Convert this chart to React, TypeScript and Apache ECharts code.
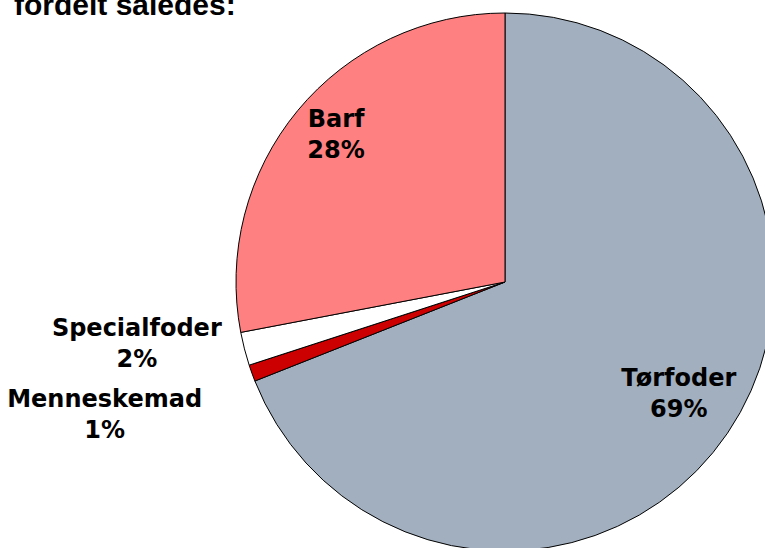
import React, { useEffect, useRef } from "react";
import * as echarts from "echarts";

const titleText = "fordelt således:";
const categories = ["Tørfoder", "Menneskemad", "Specialfoder", "Barf"];
const values = [69, 1, 2, 28];
const colors = ["#A2AFBF", "#CC0000", "#FFFFFF", "#FF8080"];
const labelOffsets: [number, number][] = [
  [60, 34],
  [-271, 86],
  [-235, 27],
  [-63, -60],
];

export default function App() {
  const ref = useRef<HTMLDivElement>(null);
  useEffect(() => {
    if (!ref.current) return;
    const chart = echarts.init(ref.current, undefined, { renderer: "svg" });
    chart.setOption({
      animation: false,
      backgroundColor: "#ffffff",
      graphic: [
        {
          type: "text",
          x: 14,
          y: 4,
          style: {
            text: titleText,
            font: "bold 30px 'Liberation Sans', Arial, sans-serif",
            fill: "#000000",
            verticalAlign: "middle",
            align: "left",
          },
        },
      ],
      series: [
        {
          type: "pie",
          center: [505, 282],
          radius: 269,
          startAngle: 90,
          clockwise: true,
          avoidLabelOverlap: false,
          labelLine: { show: false },
          itemStyle: { borderColor: "#000000", borderWidth: 1 },
          emphasis: { disabled: true },
          data: categories.map((name, i) => ({
            name,
            value: values[i],
            itemStyle: { color: colors[i] },
            label: {
              show: true,
              position: "inside",
              offset: labelOffsets[i],
              formatter: (p: any) => `${p.name}\n${p.value}%`,
              color: "#000000",
              fontFamily: "'DejaVu Sans', Verdana, sans-serif",
              fontWeight: "bold",
              fontSize: 24,
              lineHeight: 31,
              align: "center",
            },
          })),
        },
      ],
    });
    return () => chart.dispose();
  }, []);
  return (
    <div
      ref={ref}
      style={{ position: "fixed", left: 0, top: 0, width: 765, height: 548 }}
    />
  );
}
